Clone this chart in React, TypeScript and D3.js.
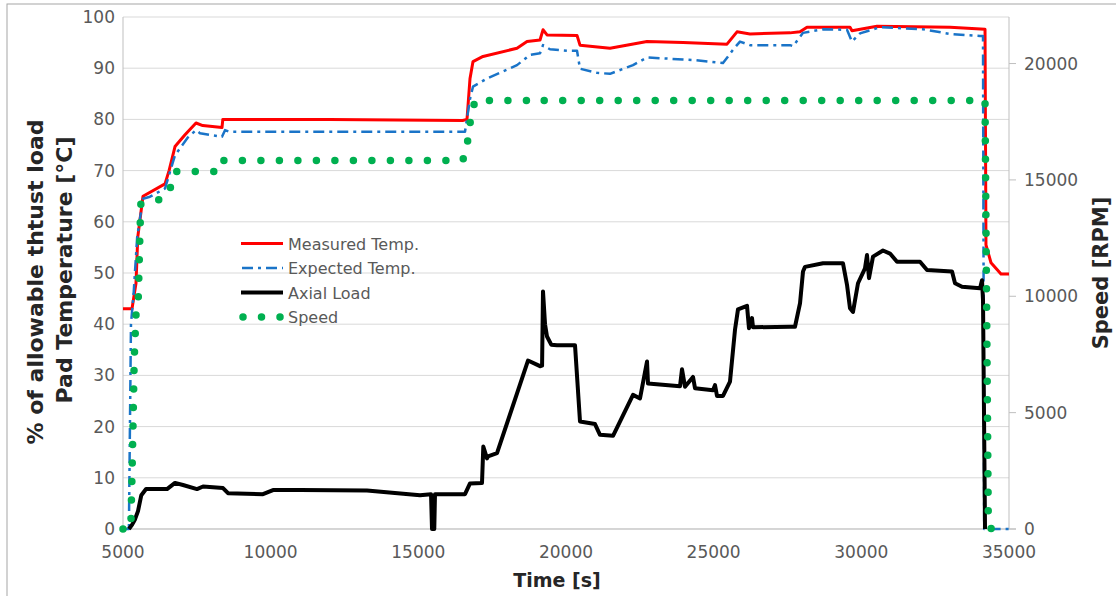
import React from 'react';
import * as d3 from 'd3';

type Pt = [number, number];

// Axis ticks
const tempTicks = [0, 10, 20, 30, 40, 50, 60, 70, 80, 90, 100];
const speedTicks = [0, 5000, 10000, 15000, 20000];
const timeTicks = [5000, 10000, 15000, 20000, 25000, 30000, 35000];

// Measured pad temperature [°C] vs time [s]
const measuredTemp: Pt[] = [
  [5000, 43], [5305, 43], [5440, 48], [5500, 57], [5677, 65], [6422, 67.4], [6560, 70],
  [6761, 74.7], [7100, 77], [7472, 79.3], [7700, 78.8], [8352, 78.4], [8380, 80], [8500, 80],
  [12000, 80], [16500, 79.8], [16648, 80], [16750, 88], [16851, 91.3], [17190, 92.3],
  [18341, 93.9], [18680, 95.2], [19120, 95.5], [19221, 97.5], [19357, 96.5], [20373, 96.4],
  [20474, 94.5], [21490, 93.9], [22743, 95.2], [23962, 95.0], [25451, 94.7], [25790, 97.1],
  [26230, 96.7], [27585, 96.9], [27924, 97.1], [28160, 98.0], [29616, 98.0], [29684, 97.3],
  [30531, 98.2], [33003, 98.0], [34188, 97.6], [34220, 55.5], [34391, 52], [34729, 49.8],
  [35000, 49.8],
];

// Expected pad temperature [°C]
const expectedTemp: Pt[] = [
  [5000, 0], [5200, 0], [5270, 40], [5360, 46], [5480, 57], [5677, 64.5], [5914, 64.9],
  [6422, 66.5], [6761, 73], [7200, 76.5], [7472, 77.9], [7607, 77.3], [8352, 76.6],
  [8454, 77.9], [8600, 77.6], [16580, 77.6], [16750, 84], [16851, 86.4], [17325, 88],
  [18341, 90.6], [18781, 92.6], [19120, 92.9], [19221, 94.5], [19458, 93.7], [20034, 93.4],
  [20373, 93.4], [20474, 89.9], [21050, 89.1], [21490, 88.9], [22269, 90.6], [22743, 92.1],
  [23962, 91.7], [24300, 91.6], [25316, 91.0], [25654, 93.6], [25891, 95.2], [26230, 94.5],
  [27585, 94.5], [27686, 94.3], [28025, 96.9], [28702, 97.6], [29515, 97.5], [29684, 95.2],
  [29955, 96.8], [30632, 98.0], [32088, 97.6], [33003, 96.7], [34018, 96.3], [34120, 96.3],
  [34160, 0], [35000, 0],
];

// Axial load [% of allowable thrust load]
const axialLoad: Pt[] = [
  [5200, 0], [5305, 0.8], [5400, 1.8], [5508, 3.5], [5620, 6.6], [5780, 7.8], [6490, 7.8],
  [6761, 9.0], [7032, 8.6], [7506, 7.8], [7709, 8.3], [8386, 8.0], [8555, 7.0], [9740, 6.8],
  [10079, 7.6], [10993, 7.6], [13262, 7.5], [15056, 6.6], [15430, 6.8], [15463, 0],
  [15540, 0], [15564, 6.8], [16411, 6.8], [16580, 6.8], [16750, 8.9], [17156, 9.0],
  [17200, 16.1], [17325, 13.8], [17359, 14.2], [17664, 14.8], [18713, 32.9], [19120, 31.8],
  [19190, 31.9], [19221, 46.4], [19290, 40], [19357, 37.6], [19500, 36.0], [19695, 35.9],
  [20305, 35.9], [20474, 21.0], [20982, 20.5], [21151, 18.4], [21592, 18.2], [22269, 26.2],
  [22506, 25.5], [22743, 32.7], [22777, 28.4], [23860, 27.9], [23928, 31.2], [24029, 27.8],
  [24300, 29.7], [24368, 27.5], [24977, 27.1], [25045, 28.1], [25113, 26.0], [25316, 26.0],
  [25553, 28.8], [25722, 38.9], [25824, 42.9], [26129, 43.6], [26196, 39.2], [26298, 41.2],
  [26332, 39.4], [27585, 39.5], [27754, 39.5], [27924, 44.1], [28025, 50.3], [28093, 51.2],
  [28702, 51.9], [29379, 51.9], [29515, 47.7], [29616, 43.1], [29718, 42.4], [29887, 48.0],
  [30124, 50.9], [30192, 53.5], [30260, 49.0], [30395, 53.2], [30734, 54.4], [30971, 53.8],
  [31208, 52.2], [31987, 52.2], [32224, 50.6], [33071, 50.3], [33172, 48.0], [33409, 47.3],
  [34018, 47.0], [34086, 48.6], [34120, 44.7], [34188, 0],
];

// Shaft speed [RPM]
const speed: Pt[] = [
  [5000, 0], [5270, 0], [5275, 700], [5300, 2000], [5340, 4500], [5380, 7300], [5440, 9200],
  [5520, 10000], [5560, 12000], [5600, 13950], [6084, 14077], [6490, 14292], [6659, 14850],
  [6761, 15365], [8284, 15365], [8386, 15837], [16500, 15837], [16600, 16180], [16682, 16767],
  [16750, 17425], [16817, 17868], [16919, 18412], [19000, 18412], [19120, 18340],
  [19250, 18412], [34188, 18412], [34300, 300], [34400, 0], [35000, 0],
];

const legendItems = ['Measured Temp.', 'Expected Temp.', 'Axial Load', 'Speed'];

const FONT = "'DejaVu Sans', sans-serif";
const TICK_COLOR = '#595959';
const RED = '#ff0000';
const BLUE = '#1a74c8';
const GREEN = '#00b050';

export default function App() {
  const x = d3.scaleLinear().domain([5000, 35000]).range([123, 1009]);
  const yT = d3.scaleLinear().domain([0, 100]).range([529, 17]);
  const yS = d3.scaleLinear().domain([0, 22000]).range([529, 17]);

  const lineT = d3.line<Pt>().x((d) => x(d[0])).y((d) => yT(d[1]));
  const lineS = d3.line<Pt>().x((d) => x(d[0])).y((d) => yS(d[1]));

  const [x0, x1] = x.range();
  const yBottom = yT(0);
  const yTop = yT(100);

  const legX0 = 241;
  const legX1 = 283;
  const legY = (i: number) => 243.5 + i * 24.5;

  return (
    <svg
      width={1116}
      height={596}
      style={{ position: 'absolute', left: 0, top: 0, background: '#fff' }}
      fontFamily={FONT}
    >
      <rect x={7} y={4} width={1200} height={700} fill="#fff" stroke="#a6a6a6" strokeWidth={1} />

      {/* horizontal gridlines */}
      {tempTicks.map((t) => (
        <line key={t} x1={x0} x2={x1} y1={yT(t)} y2={yT(t)} stroke="#d9d9d9" strokeWidth={1} />
      ))}
      {/* plot frame */}
      <line x1={x0} x2={x0} y1={yTop} y2={yBottom} stroke="#bfbfbf" />
      <line x1={x1} x2={x1} y1={yTop} y2={yBottom} stroke="#bfbfbf" />
      <line x1={x0} x2={x1 + 7} y1={yBottom} y2={yBottom} stroke="#bfbfbf" />
      {speedTicks.map((s) => (
        <line key={s} x1={x1} x2={x1 + 7} y1={yS(s)} y2={yS(s)} stroke="#bfbfbf" />
      ))}

      {/* left axis labels */}
      {tempTicks.map((t) => (
        <text key={t} x={115} y={yT(t) + 6} textAnchor="end" fontSize={17} fill={TICK_COLOR}>
          {t}
        </text>
      ))}
      {/* right axis labels */}
      {speedTicks.map((s) => (
        <text key={s} x={1024} y={yS(s) + 6} textAnchor="start" fontSize={17} fill={TICK_COLOR}>
          {s}
        </text>
      ))}
      {/* bottom axis labels */}
      {timeTicks.map((t) => (
        <text key={t} x={x(t)} y={558} textAnchor="middle" fontSize={17} fill={TICK_COLOR}>
          {t}
        </text>
      ))}

      {/* axis titles */}
      <text transform="translate(43,282) rotate(-90)" textAnchor="middle" fontSize={22} fontWeight="bold" fill="#262626">
        % of allowable thtust load
      </text>
      <text transform="translate(72,270) rotate(-90)" textAnchor="middle" fontSize={22} fontWeight="bold" fill="#262626">
        Pad Temperature [°C]
      </text>
      <text transform="translate(1108,273) rotate(-90)" textAnchor="middle" fontSize={21} fontWeight="bold" fill="#262626">
        Speed [RPM]
      </text>
      <text x={557} y={587} textAnchor="middle" fontSize={19} fontWeight="bold" fill="#262626">
        Time [s]
      </text>

      {/* series */}
      <path d={lineT(measuredTemp) ?? ''} fill="none" stroke={RED} strokeWidth={3} strokeLinejoin="round" />
      <path
        d={lineT(expectedTemp) ?? ''}
        fill="none"
        stroke={BLUE}
        strokeWidth={2.5}
        strokeDasharray="11 5 3 5"
        strokeLinejoin="round"
      />
      <path d={lineT(axialLoad) ?? ''} fill="none" stroke="#000" strokeWidth={4} strokeLinejoin="round" />
      <path
        d={lineS(speed) ?? ''}
        fill="none"
        stroke={GREEN}
        strokeWidth={7.5}
        strokeDasharray="0 18.5"
        strokeLinecap="round"
        strokeLinejoin="round"
      />

      {/* legend */}
      <line x1={legX0} x2={legX1} y1={legY(0)} y2={legY(0)} stroke={RED} strokeWidth={3} />
      <line x1={legX0} x2={legX1} y1={legY(1)} y2={legY(1)} stroke={BLUE} strokeWidth={2.5} strokeDasharray="11 5 3 5" strokeDashoffset={-1} />
      <line x1={legX0} x2={legX1} y1={legY(2)} y2={legY(2)} stroke="#000" strokeWidth={4} />
      <line x1={legX0 + 2} x2={legX1} y1={legY(3)} y2={legY(3)} stroke={GREEN} strokeWidth={7.5} strokeDasharray="0 18.5" strokeLinecap="round" />
      {legendItems.map((s, i) => (
        <text key={s} x={288} y={legY(i) + 6} fontSize={16} fill={TICK_COLOR}>
          {s}
        </text>
      ))}
    </svg>
  );
}
